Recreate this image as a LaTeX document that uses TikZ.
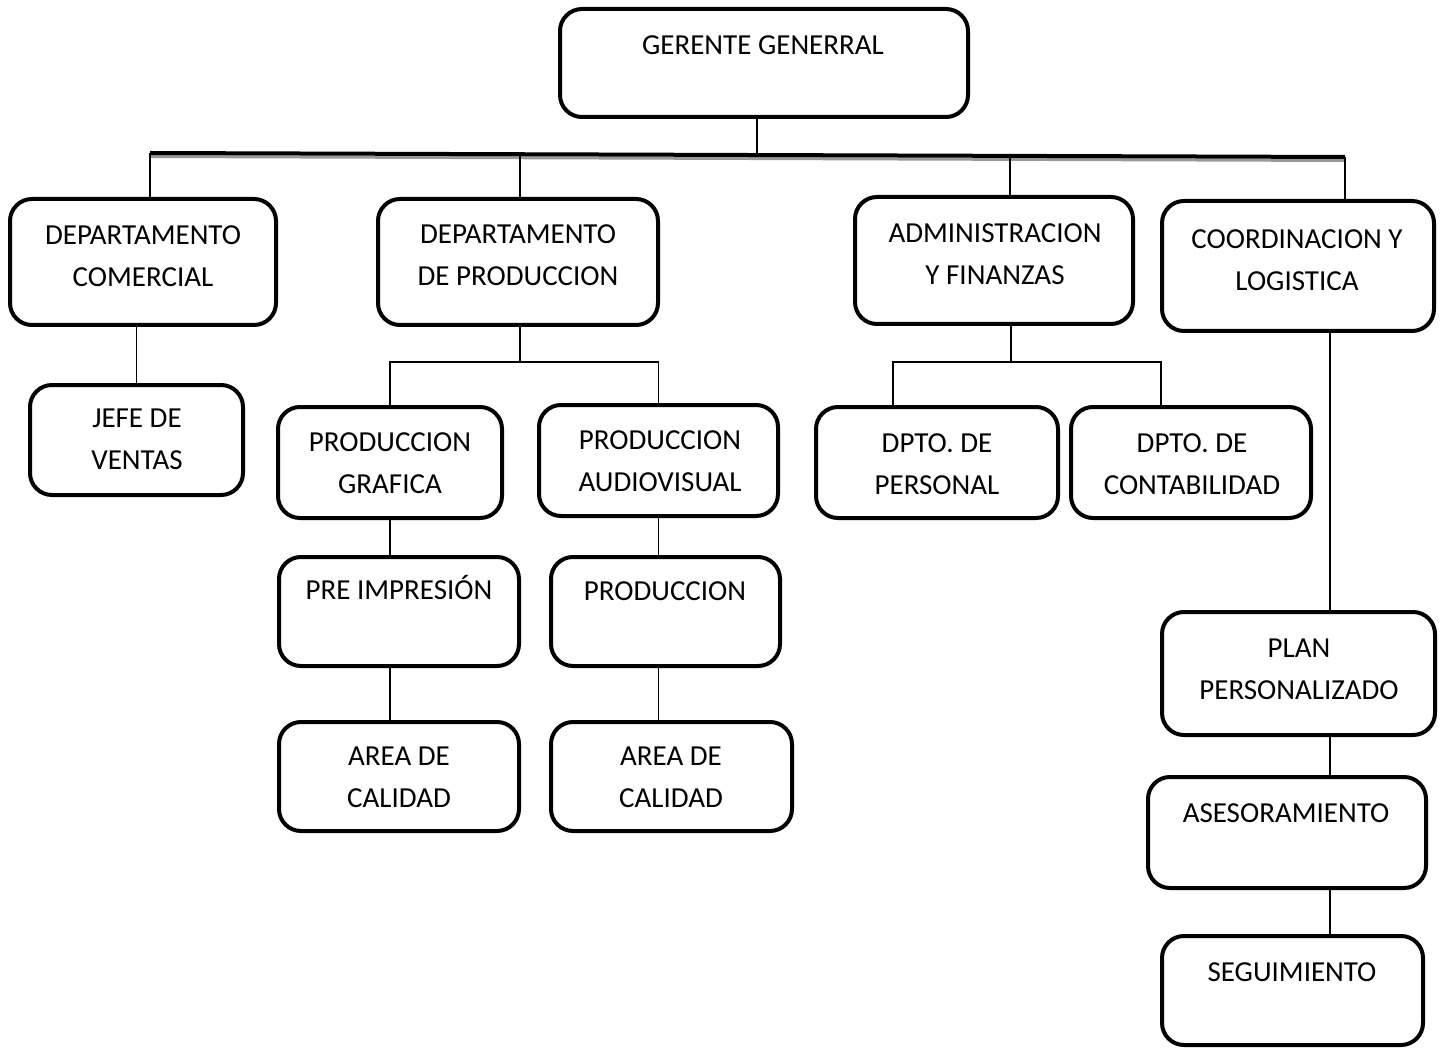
\documentclass[tikz,border=0pt]{standalone}
\usepackage{fontspec}
\setmainfont{Carlito}

\tikzset{
  frame/.style={draw, line width=4pt, rounded corners=22pt, inner sep=0pt, anchor=north west},
  lbl/.style={font=\fontsize{29}{42}\selectfont, align=center, inner sep=0pt, anchor=north},
  conn/.style={line width=1.6pt},
}

\begin{document}
\begin{tikzpicture}[x=1pt, y=-1pt]
  \useasboundingbox (0,0) rectangle (1445,1048);
  % boxes
  \node[frame, minimum width=408, minimum height=108] (gg)     at (558,7)    {};
  \node[frame, minimum width=266, minimum height=126] (dcom)   at (8,197)    {};
  \node[frame, minimum width=213, minimum height=110] (jefe)   at (28,383)   {};
  \node[frame, minimum width=280, minimum height=126] (dprod)  at (376,197)  {};
  \node[frame, minimum width=224, minimum height=111] (pgraf)  at (276,405)  {};
  \node[frame, minimum width=239, minimum height=111] (paudio) at (537,403)  {};
  \node[frame, minimum width=240, minimum height=109] (preimp) at (277,555)  {};
  \node[frame, minimum width=229, minimum height=109] (prod)   at (549,555)  {};
  \node[frame, minimum width=240, minimum height=109] (cal1)   at (277,720)  {};
  \node[frame, minimum width=241, minimum height=109] (cal2)   at (549,720)  {};
  \node[frame, minimum width=278, minimum height=127] (admin)  at (853,195)  {};
  \node[frame, minimum width=242, minimum height=111] (dpers)  at (814,405)  {};
  \node[frame, minimum width=240, minimum height=111] (dcont)  at (1069,405) {};
  \node[frame, minimum width=272, minimum height=130] (coord)  at (1160,199) {};
  \node[frame, minimum width=273, minimum height=123] (plan)   at (1160,610) {};
  \node[frame, minimum width=278, minimum height=111] (ases)   at (1146,775) {};
  \node[frame, minimum width=261, minimum height=109] (seg)    at (1160,934) {};

  % texts
  \node[lbl] (gg-t)     at (763,35)   {GERENTE GENERRAL};
  \node[lbl] (dcom-t)   at (143,225)  {DEPARTAMENTO\\COMERCIAL};
  \node[lbl] (jefe-t)   at (137,409)  {JEFE DE\\VENTAS};
  \node[lbl] (dprod-t)  at (518,224)  {DEPARTAMENTO\\DE PRODUCCION};
  \node[lbl] (pgraf-t)  at (390,432)  {PRODUCCION\\GRAFICA};
  \node[lbl] (paudio-t) at (660,430)  {PRODUCCION\\AUDIOVISUAL};
  \node[lbl] (preimp-t) at (399,575)  {PRE IMPRESIÓN};
  \node[lbl] (prod-t)   at (665,581)  {PRODUCCION};
  \node[lbl] (cal1-t)   at (399,747)  {AREA DE\\CALIDAD};
  \node[lbl] (cal2-t)   at (671,747)  {AREA DE\\CALIDAD};
  \node[lbl] (admin-t)  at (995,223)  {ADMINISTRACION\\Y FINANZAS};
  \node[lbl] (dpers-t)  at (937,433)  {DPTO. DE\\PERSONAL};
  \node[lbl] (dcont-t)  at (1192,433) {DPTO. DE\\CONTABILIDAD};
  \node[lbl] (coord-t)  at (1297,229) {COORDINACION Y\\LOGISTICA};
  \node[lbl] (plan-t)   at (1299,639) {PLAN\\PERSONALIZADO};
  \node[lbl] (ases-t)   at (1286,803) {ASESORAMIENTO};
  \node[lbl] (seg-t)    at (1292,962) {SEGUIMIENTO};

  % main bar
  \coordinate (barL) at (150,153);
  \coordinate (barR) at (1345,157);
  \draw[black!40, line width=3pt] ([yshift=-3.5pt]barL) -- ([yshift=-3.5pt]barR);
  \draw[line width=4pt] (barL) -- (barR);
  \coordinate (ggj) at (757,156);
  \draw[conn] (ggj |- gg.south) -- (ggj);
  \coordinate (d1) at (150,153);
  \coordinate (d2) at (520,154);
  \coordinate (d3) at (1010,156);
  \coordinate (d4) at (1345,157);
  \draw[conn] (d1) -- (d1 |- dcom.north);
  \draw[conn] (d2) -- (d2 |- dprod.north);
  \draw[conn] (d3) -- (d3 |- admin.north);
  \draw[conn] (d4) -- (d4 |- coord.north);

  % comercial
  \draw[conn] (jefe.north |- dcom.south) -- (jefe.north);

  % produccion
  \coordinate (pj) at (520,362);
  \draw[conn] (pj |- dprod.south) -- (pj);
  \draw[conn] (pgraf.north) -- (pgraf.north |- pj) -- (paudio.north |- pj) -- (paudio.north);
  \draw[conn] (pgraf.south) -- (pgraf.south |- preimp.north);
  \draw[conn] (pgraf.south |- preimp.south) -- (pgraf.south |- cal1.north);
  \draw[conn] (paudio.south) -- (paudio.south |- prod.north);
  \draw[conn] (paudio.south |- prod.south) -- (paudio.south |- cal2.north);

  % administracion
  \coordinate (aj) at (1011,362);
  \coordinate (al) at (893,362);
  \coordinate (ar) at (1161,362);
  \draw[conn] (aj |- admin.south) -- (aj);
  \draw[conn] (al |- dpers.north) -- (al) -- (ar) -- (ar |- dcont.north);

  % coordinacion
  \coordinate (cj) at (1330,340);
  \draw[conn] (cj |- coord.south) -- (cj |- plan.north);
  \draw[conn] (cj |- plan.south) -- (cj |- ases.north);
  \draw[conn] (cj |- ases.south) -- (cj |- seg.north);
\end{tikzpicture}
\end{document}
